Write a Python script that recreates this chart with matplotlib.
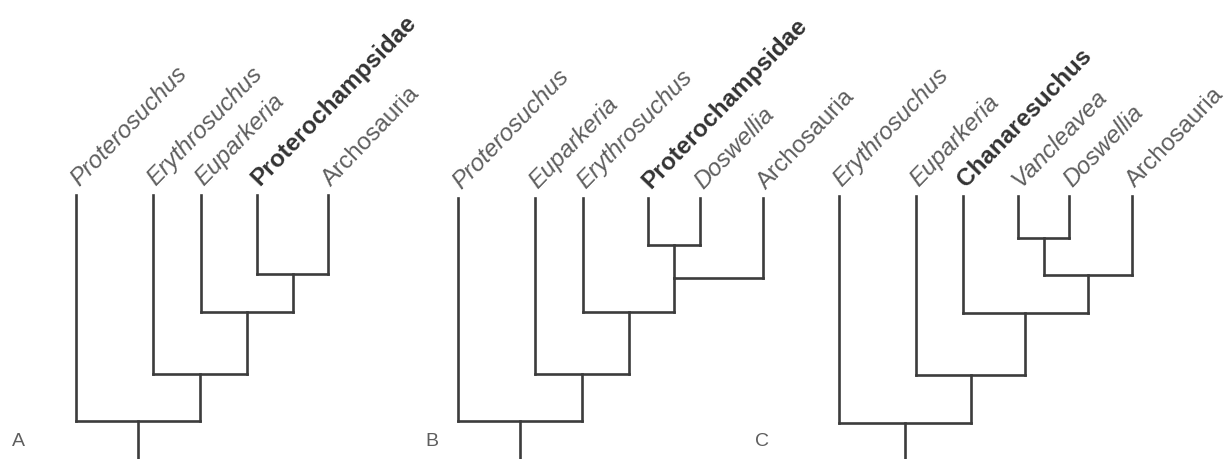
import matplotlib
matplotlib.use('Agg')
import matplotlib.pyplot as plt

# panel A
A_taxa = ['Proterosuchus', 'Erythrosuchus', 'Euparkeria', 'Proterochampsidae', 'Archosauria']
A_tip_x = [76, 153, 201, 257, 328]
A_tree = (0, (1, (2, (3, 4))))
A_node_y = [421, 374, 312, 274]          # preorder, root first
A_stem_left = []
A_tip_top = 195

# panel B
B_taxa = ['Proterosuchus', 'Euparkeria', 'Erythrosuchus', 'Proterochampsidae', 'Doswellia', 'Archosauria']
B_tip_x = [458, 535, 583, 648, 700, 763]
B_tree = (0, (1, (2, ((3, 4), 5))))
B_node_y = [421, 374, 312, 278, 245]
B_stem_left = [3]
B_tip_top = 198

# panel C
C_taxa = ['Erythrosuchus', 'Euparkeria', 'Chanaresuchus', 'Vancleavea', 'Doswellia', 'Archosauria']
C_tip_x = [839, 916, 963, 1018, 1069, 1132]
C_tree = (0, (1, (2, ((3, 4), 5))))
C_node_y = [423, 375, 313, 275, 238]
C_stem_left = []
C_tip_top = 196

panel_letters = ['A', 'B', 'C']
letter_x = [18, 432, 762]
letter_y = 442

bold_taxa = {'Proterochampsidae', 'Chanaresuchus'}
upright_taxa = {'Archosauria'}

LINE = '#3c3c3c'
TXT = '#5e5e5e'
TXT_BOLD = '#333333'
LW = 1.9
W, H = 1226, 459


def draw_tree(ax, taxa, tip_x, tree, node_y, stem_left, tip_top):
    counter = [0]

    def walk(node):
        # returns (x, y) of the node's attachment point
        if isinstance(node, int):
            return tip_x[node], tip_top
        idx = counter[0]
        counter[0] += 1
        y = node_y[idx]
        lx, ly = walk(node[0])
        rx, ry = walk(node[1])
        ax.plot([lx, lx], [ly, y], color=LINE, lw=LW, solid_capstyle='projecting')
        ax.plot([rx, rx], [ry, y], color=LINE, lw=LW, solid_capstyle='projecting')
        ax.plot([lx, rx], [y, y], color=LINE, lw=LW, solid_capstyle='projecting')
        x = lx if idx in stem_left else (lx + rx) / 2
        return x, y

    rx, ry = walk(tree)
    ax.plot([rx, rx], [ry, H], color=LINE, lw=LW)

    for name, x in zip(taxa, tip_x):
        bold = name in bold_taxa
        style = 'normal' if (bold or name in upright_taxa) else 'italic'
        ax.text(x + 3, tip_top - 8, name, rotation=46, rotation_mode='anchor',
                ha='left', va='baseline', fontsize=17.5,
                family=['Liberation Sans', 'DejaVu Sans'],
                fontweight='bold' if bold else 'normal', fontstyle=style,
                color=TXT_BOLD if bold else TXT)


fig = plt.figure(figsize=(W / 100, H / 100), dpi=100)
ax = fig.add_axes([0, 0, 1, 1])
ax.set_xlim(0, W)
ax.set_ylim(H, 0)
ax.axis('off')

draw_tree(ax, A_taxa, A_tip_x, A_tree, A_node_y, A_stem_left, A_tip_top)
draw_tree(ax, B_taxa, B_tip_x, B_tree, B_node_y, B_stem_left, B_tip_top)
draw_tree(ax, C_taxa, C_tip_x, C_tree, C_node_y, C_stem_left, C_tip_top)

for lab, x in zip(panel_letters, letter_x):
    ax.text(x, letter_y, lab, fontsize=14, color=TXT, ha='center', va='center',
            family=['Liberation Sans', 'DejaVu Sans'])

fig.savefig('out.png', dpi=100)
